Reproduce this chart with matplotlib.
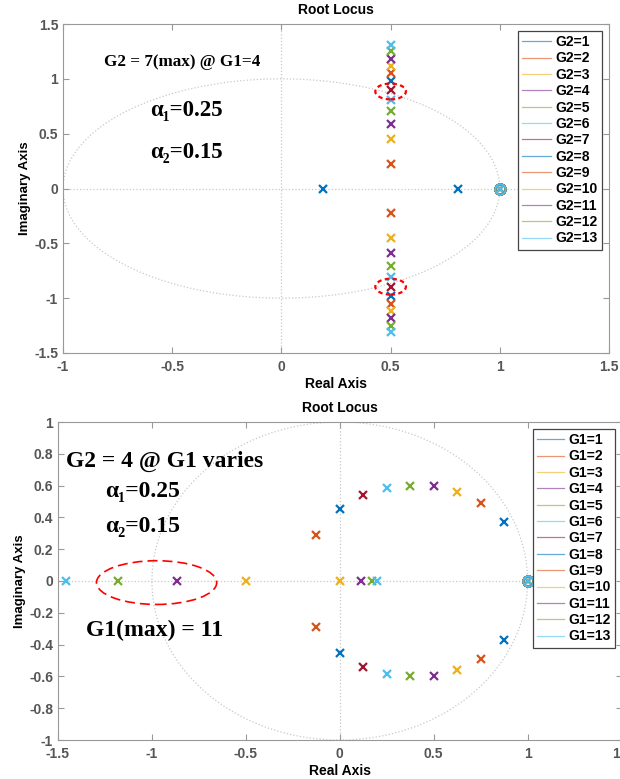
import numpy as np
import matplotlib
matplotlib.use('Agg')
import matplotlib.pyplot as plt
from matplotlib.lines import Line2D
from matplotlib.patches import Ellipse

# MATLAB default colour order
colors = ['#0072BD', '#D95319', '#EDB120', '#7E2F8E', '#77AC30', '#4DBEEE', '#A2142F']

# Top plot: G1 = 4, G2 = 1..13
top_labels = ['G2=%d' % g for g in range(1, 14)]
top_re1 = [0.19, 0.5, 0.5, 0.5, 0.5, 0.5, 0.5, 0.5, 0.5, 0.5, 0.5, 0.5, 0.5]
top_re2 = [0.81, 0.5, 0.5, 0.5, 0.5, 0.5, 0.5, 0.5, 0.5, 0.5, 0.5, 0.5, 0.5]
top_im = [0.0, 0.22, 0.45, 0.59, 0.71, 0.81, 0.90, 0.98, 1.05, 1.12, 1.18, 1.25, 1.31]

# Bottom plot: G2 = 4, G1 = 1..13
bot_labels = ['G1=%d' % g for g in range(1, 14)]
bot_re1 = [0.875, 0.75, 0.625, 0.5, 0.375, 0.25, 0.125, 0.0, -0.125, 0.0, 0.115, 0.17, 0.20]
bot_re2 = [0.875, 0.75, 0.625, 0.5, 0.375, 0.25, 0.125, 0.0, -0.125, -0.5, -0.865, -1.18, -1.46]
bot_im = [0.37, 0.49, 0.56, 0.595, 0.60, 0.585, 0.54, 0.45, 0.29, 0.0, 0.0, 0.0, 0.0]

# open-loop pole / zero sitting on z = 1
pz_re = 1.0
pz_im = 0.0

W, H = 620, 779
fig = plt.figure(figsize=(W / 100, H / 100), dpi=100)
plt.rcParams['font.family'] = ['Liberation Sans', 'DejaVu Sans']

serif = ['Liberation Serif', 'DejaVu Serif']
tick_col = '#555555'
grid_col = '#c8c8c8'


def px_ax(x0, y0, x1, y1):
    # pixel box (top-left origin) -> figure axes rect
    return [x0 / W, 1 - y1 / H, (x1 - x0) / W, (y1 - y0) / H]


def setup(ax, xlim, ylim, xt, yt):
    th = np.linspace(0, 2 * np.pi, 500)
    ax.plot(np.cos(th), np.sin(th), ls=':', color=grid_col, lw=0.9, zorder=0)
    ax.axhline(0, ls=':', color=grid_col, lw=0.9, zorder=0)
    ax.axvline(0, ls=':', color=grid_col, lw=0.9, zorder=0)
    ax.set_xlim(xlim)
    ax.set_ylim(ylim)
    ax.set_xticks(xt)
    ax.set_yticks(yt)
    ax.set_xticklabels(['%g' % v for v in xt])
    ax.set_yticklabels(['%g' % v for v in yt])
    ax.tick_params(direction='in', top=True, right=True, length=4, width=0.8,
                   color='#999999', labelcolor=tick_col, labelsize=10)
    ax.tick_params(axis='x', pad=5)
    for lab in ax.get_xticklabels() + ax.get_yticklabels():
        lab.set_fontweight('bold')
    for s in ax.spines.values():
        s.set_color('#999999')
        s.set_linewidth(0.8)
    ax.set_title('Root Locus', fontsize=10, fontweight='bold', pad=7)
    ax.set_xlabel('Real Axis', fontsize=10, fontweight='bold', labelpad=2)
    ax.set_ylabel('Imaginary Axis', fontsize=9.5, fontweight='bold', labelpad=2)


def draw_poles(ax, re1, re2, im, labels, hlen):
    handles = []
    for i in range(len(labels)):
        c = colors[i % len(colors)]
        ax.plot([pz_re], [pz_im], 'o', ms=7.5, mfc='none', mec=c, mew=1.3, zorder=3)
        ax.plot([pz_re], [pz_im], 'x', ms=5, mec=c, mew=1.3, zorder=3)
        ax.plot([re1[i], re2[i]], [im[i], -im[i]], 'x', ms=5.5, mec=c, mew=1.6,
                ls='none', zorder=3)
        handles.append(Line2D([], [], color=c, lw=0.9, alpha=0.6))
    leg = ax.legend(handles, labels, loc='upper right', fontsize=10,
                    handlelength=hlen, handletextpad=0.3, labelspacing=0.17,
                    borderpad=0.3, borderaxespad=0.5, fancybox=False,
                    edgecolor='#444444', framealpha=1)
    leg.get_frame().set_linewidth(0.9)
    for t in leg.get_texts():
        t.set_fontweight('bold')


# ---- top plot ----
ax1 = fig.add_axes(px_ax(63, 24, 609, 353))
setup(ax1, (-1, 1.5), (-1.5, 1.5), [-1, -0.5, 0, 0.5, 1, 1.5],
      [-1.5, -1, -0.5, 0, 0.5, 1, 1.5])
draw_poles(ax1, top_re1, top_re2, top_im, top_labels, 2.1)
for yc in (0.885, -0.895):
    ax1.add_patch(Ellipse((0.5, yc), 0.14, 0.145, fill=False, ec='red',
                          lw=1.6, ls=(0, (2, 1.5)), zorder=4))
ax1.text(-0.81, 1.15, 'G2 = 7(max) @ G1=4', family=serif, fontweight='bold',
         fontsize=12.3, ha='left', va='center')
ax1.text(-0.60, 0.71, 'α₁=0.25', family=serif, fontweight='bold',
         fontsize=16.5, ha='left', va='center')
ax1.text(-0.60, 0.33, 'α₂=0.15', family=serif, fontweight='bold',
         fontsize=16.5, ha='left', va='center')

# ---- bottom plot ----
ax2 = fig.add_axes(px_ax(58, 422, 621.5, 740))
setup(ax2, (-1.5, 1.5), (-1, 1), [-1.5, -1, -0.5, 0, 0.5, 1, 1.5],
      [-1, -0.8, -0.6, -0.4, -0.2, 0, 0.2, 0.4, 0.6, 0.8, 1])
draw_poles(ax2, bot_re1, bot_re2, bot_im, bot_labels, 1.9)
ax2.add_patch(Ellipse((-0.975, -0.01), 0.64, 0.275, fill=False, ec='red',
                      lw=1.2, ls=(0, (6, 3)), zorder=4))
ax2.text(-1.46, 0.75, 'G2 = 4 @ G1 varies', family=serif, fontweight='bold',
         fontsize=17, ha='left', va='center')
ax2.text(-1.25, 0.56, 'α₁=0.25', family=serif, fontweight='bold',
         fontsize=17, ha='left', va='center')
ax2.text(-1.25, 0.34, 'α₂=0.15', family=serif, fontweight='bold',
         fontsize=17, ha='left', va='center')
ax2.text(-1.35, -0.31, 'G1(max) = 11', family=serif, fontweight='bold',
         fontsize=17, ha='left', va='center')

fig.savefig('out.png', dpi=100)
